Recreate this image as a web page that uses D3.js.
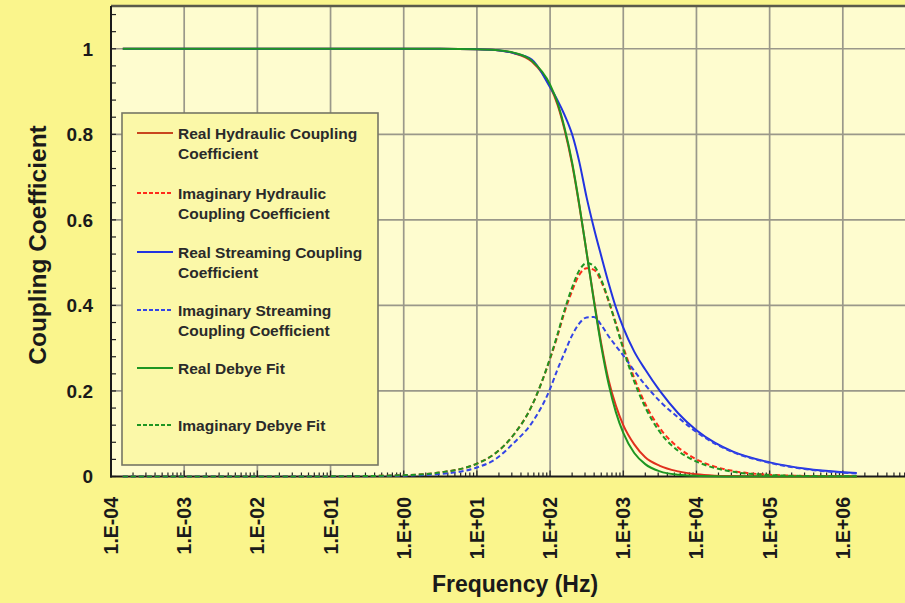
<!DOCTYPE html>
<html><head><meta charset="utf-8">
<script src="https://cdn.jsdelivr.net/npm/d3@7"></script>
<style>
body{margin:0;background:#FAF58C;}
svg{display:block;}
text{font-family:"Liberation Sans",Arial,sans-serif;font-weight:bold;}
</style>
</head><body><svg id="c" width="905" height="603"></svg>
<script>
// Frequency (Hz)
const frequencies = [1.45e-4, 1e-3, 1e-2, 1e-1, 1, 3.16, 10, 17.8, 31.6, 56.2, 100, 126, 158, 200, 251, 316, 398, 501, 631, 794, 1000, 1413, 1995, 3162, 5623, 1e4, 17783, 31623, 1e5, 316228, 1e6, 1.55e6];
const realHydraulic   = [1,1,1,1,1,1,0.999,0.997,0.990,0.970,0.912,0.870,0.810,0.730,0.633,0.523,0.412,0.310,0.225,0.165,0.120,0.075,0.045,0.025,0.012,0.005,0.002,0.001,0,0,0,0];
const imagHydraulic   = [0,0,0,0.0003,0.003,0.0095,0.030,0.054,0.097,0.165,0.275,0.328,0.385,0.434,0.472,0.487,0.483,0.455,0.410,0.358,0.303,0.230,0.170,0.113,0.068,0.040,0.023,0.013,0.004,0.0013,0.0005,0.0003];
const realStreaming   = [1,1,1,1,1,1,0.999,0.997,0.990,0.975,0.910,0.880,0.845,0.800,0.735,0.652,0.580,0.515,0.452,0.395,0.348,0.292,0.250,0.200,0.148,0.108,0.079,0.058,0.033,0.018,0.010,0.008];
const imagStreaming   = [0,0,0,0.0002,0.002,0.006,0.021,0.040,0.078,0.125,0.205,0.250,0.290,0.330,0.358,0.372,0.373,0.354,0.328,0.305,0.283,0.247,0.214,0.176,0.138,0.104,0.077,0.057,0.032,0.017,0.009,0.007];
const realDebye       = [1,1,1,1,1,1,0.999,0.997,0.991,0.972,0.916,0.874,0.814,0.734,0.635,0.523,0.409,0.304,0.216,0.150,0.102,0.055,0.029,0.012,0.004,0.0015,0.0005,0.0002,0,0,0,0];
const imagDebye       = [0,0,0,0.0003,0.003,0.0095,0.030,0.054,0.097,0.165,0.277,0.332,0.390,0.442,0.482,0.499,0.492,0.460,0.411,0.355,0.298,0.222,0.162,0.104,0.060,0.035,0.020,0.011,0.0035,0.0012,0.0004,0.0003];

const seriesNames = [
  ["Real Hydraulic Coupling","Coefficient"],
  ["Imaginary Hydraulic","Coupling Coefficient"],
  ["Real Streaming Coupling","Coefficient"],
  ["Imaginary Streaming","Coupling Coefficient"],
  ["Real Debye Fit"],
  ["Imaginary Debye Fit"]
];
const xTickValues = [1e-4,1e-3,1e-2,1e-1,1,1e1,1e2,1e3,1e4,1e5,1e6];
const xTickLabels = ["1.E-04","1.E-03","1.E-02","1.E-01","1.E+00","1.E+01","1.E+02","1.E+03","1.E+04","1.E+05","1.E+06"];
const yTickValues = [0,0.2,0.4,0.6,0.8,1];
const yTickLabels = ["0","0.2","0.4","0.6","0.8","1"];

const series = [
  {name: seriesNames[0], values: realHydraulic, color:"#E0301E", dash:null, legendColor:"#C8461E"},
  {name: seriesNames[1], values: imagHydraulic, color:"#FF2A1A", dash:"5,3"},
  {name: seriesNames[2], values: realStreaming, color:"#2233E0", dash:null},
  {name: seriesNames[3], values: imagStreaming, color:"#3344E6", dash:"5,3"},
  {name: seriesNames[4], values: realDebye, color:"#1E9622", dash:null},
  {name: seriesNames[5], values: imagDebye, color:"#1E9622", dash:"5,3"}
];

const svg = d3.select("#c");
const x = d3.scaleLog().domain([1e-4,1e7]).range([111,916]);
const y = d3.scaleLinear().domain([0,1.1]).range([476.5,6]);

svg.append("rect").attr("width",905).attr("height",603).attr("fill","#FAF58C");
svg.append("rect").attr("x",x(1e-4)).attr("y",y(1.1)).attr("width",x(1e7)-x(1e-4)).attr("height",y(0)-y(1.1)).attr("fill","#FEFCCF");

// grid
const grid = svg.append("g").attr("stroke","#9A988A").attr("stroke-width",1.7);
xTickValues.slice(1).forEach(v=>{
  grid.append("line").attr("x1",x(v)).attr("x2",x(v)).attr("y1",y(1.1)).attr("y2",y(0));
});
yTickValues.slice(1).forEach(v=>{
  grid.append("line").attr("x1",x(1e-4)).attr("x2",x(1e7)).attr("y1",y(v)).attr("y2",y(v));
});
svg.append("line").attr("x1",x(1e-4)).attr("x2",x(1e7)).attr("y1",y(1.1)).attr("y2",y(1.1)).attr("stroke","#5A5A4A").attr("stroke-width",2.5);

// minor ticks x (inward)
const tk = svg.append("g").attr("stroke","#222").attr("stroke-width",1.2);
for(let e=-4;e<7;e++){
  for(let m=1;m<10;m++){
    const v = m*Math.pow(10,e);
    tk.append("line").attr("x1",x(v)).attr("x2",x(v)).attr("y1",y(0)).attr("y2",y(0)-(m===1?6:4));
  }
}
// y ticks every 0.04 (inward)
d3.range(0,1.1,0.04).forEach(v=>{
  tk.append("line").attr("x1",x(1e-4)).attr("x2",x(1e-4)+5).attr("y1",y(v)).attr("y2",y(v));
});

// axis lines
svg.append("line").attr("x1",x(1e-4)).attr("x2",x(1e-4)).attr("y1",y(1.1)).attr("y2",y(0)+1).attr("stroke","#1a1a1a").attr("stroke-width",2);
svg.append("line").attr("x1",x(1e-4)-1).attr("x2",x(1e7)).attr("y1",y(0)).attr("y2",y(0)).attr("stroke","#1a1a1a").attr("stroke-width",2.2);

// lines
const line = d3.line().x((d,i)=>x(frequencies[i])).y(d=>y(d)).curve(d3.curveMonotoneX);
series.forEach(s=>{
  svg.append("path").datum(s.values).attr("d",line).attr("fill","none")
    .attr("stroke",s.color).attr("stroke-width",2)
    .attr("stroke-dasharray",s.dash);
});

// y tick labels
svg.append("g").selectAll("text").data(yTickValues).join("text")
  .attr("x",93).attr("y",d=>y(d)).attr("dy","0.36em").attr("text-anchor","end")
  .attr("font-size",19).attr("fill","#1a1a1a").text((d,i)=>yTickLabels[i]);

// x tick labels
svg.append("g").selectAll("text").data(xTickValues).join("text")
  .attr("transform",d=>`translate(${x(d)},497) rotate(-90)`)
  .attr("dy","0.36em").attr("text-anchor","end")
  .attr("font-size",19.5).attr("fill","#1a1a1a").text((d,i)=>xTickLabels[i]);

// axis titles
svg.append("text").attr("x",515).attr("y",592).attr("text-anchor","middle")
  .attr("font-size",23).attr("fill","#1a1a1a").text("Frequency (Hz)");
svg.append("text").attr("transform","translate(46,245) rotate(-90)").attr("text-anchor","middle")
  .attr("font-size",24.5).attr("fill","#1a1a1a").text("Coupling Coefficient");

// legend
const lg = svg.append("g");
lg.append("rect").attr("x",122).attr("y",113).attr("width",256).attr("height",352)
  .attr("fill","#FBF8A8").attr("stroke","#767664").attr("stroke-width",1.6);
const rowY = [133,193,252,310,368,425];
series.forEach((s,i)=>{
  lg.append("line").attr("x1",137).attr("x2",173).attr("y1",rowY[i]).attr("y2",rowY[i])
    .attr("stroke",s.legendColor||s.color).attr("stroke-width",2).attr("stroke-dasharray",s.dash?"4,2":null);
  s.name.forEach((t,j)=>{
    lg.append("text").attr("x",178).attr("y",rowY[i]+j*20).attr("dy","0.36em")
      .attr("font-size",15.5).attr("fill","#2a2a2a").text(t);
  });
});
</script>
</body></html>
